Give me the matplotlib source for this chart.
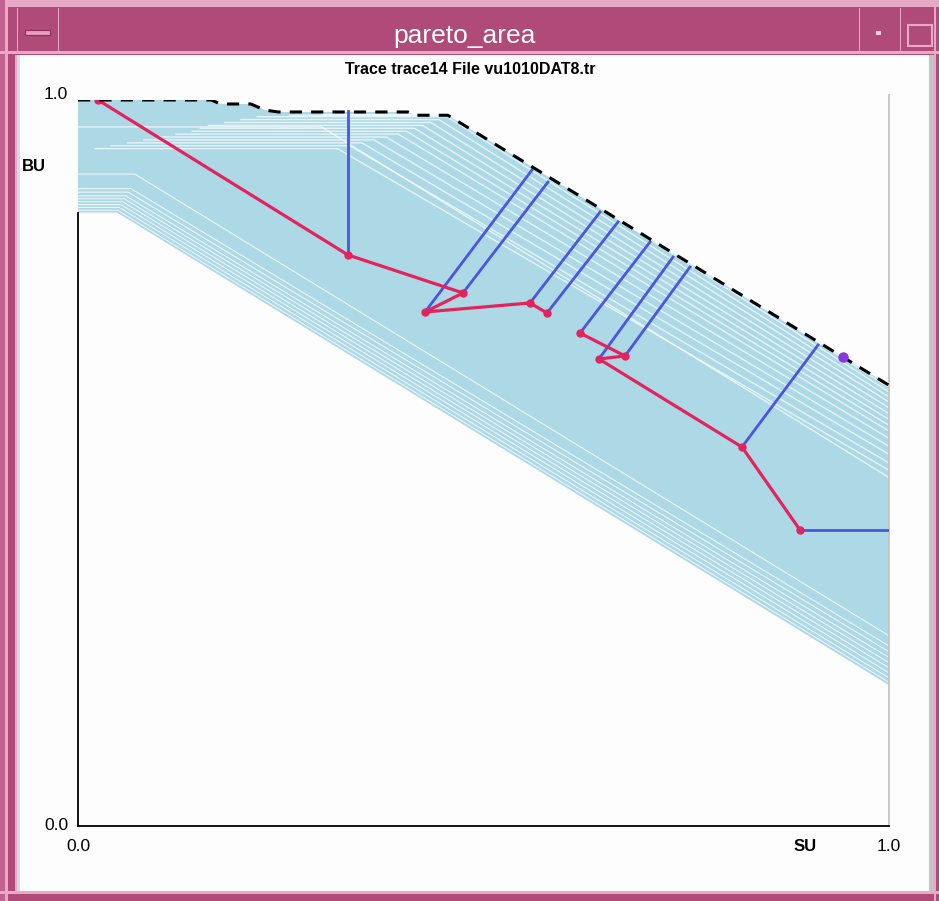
import matplotlib
matplotlib.use("Agg")
import matplotlib.pyplot as plt
from matplotlib.patches import Rectangle
from matplotlib import font_manager

W, H = 939, 901

# pareto frontier = upper envelope of all traces
front_x = [0.0, 0.164, 0.176, 0.213, 0.231, 0.247, 0.407, 0.416, 0.456, 1.0]
front_y = [1.0, 1.0, 0.9945, 0.9945, 0.986, 0.9835, 0.9835, 0.979, 0.979, 0.607]

# lower envelope of the traces
lower_x = [0.0, 0.048, 1.0]
lower_y = [0.845, 0.845, 0.194]

# thin gaps between neighbouring traces near the upper edge:
# start, flat level, knee, value at SU=1
top_x0 = [0.30, 0.26, 0.22, 0.20, 0.18, 0.16, 0.15, 0.14, 0.12, 0.10, 0.08,
          0.06, 0.04, 0.02, 0.0]
top_y0 = [0.980, 0.979, 0.977, 0.973, 0.969, 0.965, 0.961, 0.957, 0.953,
          0.949, 0.945, 0.941, 0.937, 0.933, 0.963]
top_knee = [0.47, 0.465, 0.455, 0.445, 0.435, 0.425, 0.415, 0.405, 0.395,
            0.38, 0.365, 0.35, 0.335, 0.32, 0.30]
top_y1 = [0.604, 0.598, 0.591, 0.584, 0.576, 0.568, 0.560, 0.552, 0.544,
          0.534, 0.523, 0.512, 0.500, 0.490, 0.480]

# thin gaps near the lower edge
bot_y0 = [0.848, 0.852, 0.856, 0.860, 0.864, 0.868, 0.873, 0.878, 0.898]
bot_knee = [0.049, 0.051, 0.053, 0.055, 0.057, 0.059, 0.062, 0.065, 0.07]
bot_y1 = [0.198, 0.204, 0.211, 0.218, 0.225, 0.232, 0.240, 0.248, 0.262]

# search path (two pieces)
path1_x = [0.0247, 0.333, 0.4747, 0.4279, 0.5573, 0.5783]
path1_y = [1.0, 0.7865, 0.7342, 0.708, 0.7204, 0.7066]
path2_x = [0.619, 0.6745, 0.6424, 0.8187, 0.8903]
path2_y = [0.679, 0.6474, 0.6433, 0.522, 0.4077]

# projections from path points towards the frontier
proj_x0 = [0.333, 0.4279, 0.4747, 0.5573, 0.5783, 0.619, 0.6424, 0.6745, 0.8187, 0.8903]
proj_y0 = [0.7865, 0.708, 0.7342, 0.7204, 0.7066, 0.679, 0.6433, 0.6474, 0.522, 0.4077]
proj_x1 = [0.333, 0.5598, 0.5795, 0.6437, 0.6658, 0.7053, 0.7337, 0.7546, 0.9125, 1.0]
proj_y1 = [0.985, 0.9036, 0.887, 0.8457, 0.832, 0.8044, 0.7837, 0.77, 0.6625, 0.4077]

best_x, best_y = 0.9433, 0.646

avail = {f.name for f in font_manager.fontManager.ttflist}
SANS = "Liberation Sans" if "Liberation Sans" in avail else "DejaVu Sans"
plt.rcParams["font.family"] = [SANS, "DejaVu Sans"]

FRAME = "#b04a78"
LIGHT = "#e7a9c5"

fig = plt.figure(figsize=(W / 100, H / 100), dpi=100, facecolor=FRAME)


def box(x0, y0, x1, y1, color, z=0):
    fig.add_artist(Rectangle((x0 / W, 1 - y1 / H), (x1 - x0) / W, (y1 - y0) / H,
                             transform=fig.transFigure, facecolor=color,
                             edgecolor="none", zorder=z))


def outline(x0, y0, x1, y1, color, lw=1.2, z=1):
    fig.add_artist(Rectangle((x0 / W, 1 - y1 / H), (x1 - x0) / W, (y1 - y0) / H,
                             transform=fig.transFigure, facecolor="none",
                             edgecolor=color, lw=lw, zorder=z))


# window frame
box(0, 0, W, 7, LIGHT)
box(0, 0, 5, H, "#c0618f")
box(5, 7, 8, H, LIGHT)
box(15, 55, 17, 892, LIGHT)
box(17, 55, 931, 891, "#fdfdfd")
box(17, 55, 20, 891, "#cfe0e2")
box(929, 55, 934, 891, "#c4c4c4")
box(934, 7, 936, 901, LIGHT)
box(0, 891, W, 894, LIGHT)
box(0, 51, W, 54, LIGHT)
box(17, 8, 18, 52, LIGHT)
box(58, 8, 59, 52, LIGHT)
box(859, 8, 860, 52, LIGHT)
box(900, 8, 901, 52, LIGHT)
box(25, 30, 50, 35, "#e39dbd")
outline(25, 30, 50, 35, "#8e2f5a", lw=0.8)
box(876, 31, 881, 35, "#f0d0de")
outline(908, 25, 932, 46, LIGHT, lw=1.5)

fig.text(465 / W, 1 - 36 / H, "pareto_area", color="white", fontsize=19,
         ha="center", va="center")
fig.text(470 / W, 1 - 69 / H, "Trace trace14 File vu1010DAT8.tr", color="black",
         fontsize=11.5, fontweight="bold", ha="center", va="center")

ax = fig.add_axes([78 / W, 75 / H, 811 / W, 726 / H])
ax.set_xlim(0, 1)
ax.set_ylim(0, 1)
ax.patch.set_visible(False)
ax.set_xticks([])
ax.set_yticks([])
ax.spines["top"].set_visible(False)
ax.spines["left"].set_linewidth(1.3)
ax.spines["left"].set_bounds(0, lower_y[0])
ax.spines["bottom"].set_linewidth(1.3)
ax.spines["right"].set_color("#c4c4c4")
ax.spines["right"].set_linewidth(1.3)
ax.spines["right"].set_bounds(0, 1.007)

fan = "#add8e6"
ax.fill(front_x + lower_x[::-1], front_y + lower_y[::-1], color=fan, lw=0,
        zorder=1)
for x0, y0, k, y1 in zip(top_x0, top_y0, top_knee, top_y1):
    ax.plot([x0, k, 1], [y0, y0, y1], color="white", lw=1.0, alpha=0.7,
            zorder=1.5, solid_capstyle="butt")
for y0, k, y1 in zip(bot_y0, bot_knee, bot_y1):
    ax.plot([0, k, 1], [y0, y0, y1], color="white", lw=0.8, alpha=0.75,
            zorder=1.5, solid_capstyle="butt")

for x0, y0, x1, y1 in zip(proj_x0, proj_y0, proj_x1, proj_y1):
    ax.plot([x0, x1], [y0, y1], color="#4a55e2", lw=2.0, zorder=3)

red = "#e2235c"
for px, py in [(path1_x, path1_y), (path2_x, path2_y)]:
    ax.plot(px, py, color=red, lw=2.3, marker="o", markersize=5,
            zorder=3.5)

ax.plot(front_x, front_y, color="black", lw=2.2, dashes=(4, 3), zorder=4)
ax.plot([best_x], [best_y], "o", color="#8a35e0", markersize=6.5, zorder=5)

# axis labels in the style of the original tool
ax.text(-0.012, 1.008, "1.0", fontsize=12.5, ha="right", va="center",
        transform=ax.transAxes)
ax.text(-0.012, 0.0, "0.0", fontsize=12.5, ha="right", va="center",
        transform=ax.transAxes)
ax.text(-0.069, 0.908, "BU", fontsize=12, fontweight="bold", ha="left",
        va="center", transform=ax.transAxes)
ax.text(0.0, -0.028, "0.0", fontsize=12.5, ha="center", va="center",
        transform=ax.transAxes)
ax.text(1.0, -0.028, "1.0", fontsize=12.5, ha="center", va="center",
        transform=ax.transAxes)
ax.text(0.896, -0.028, "SU", fontsize=12, fontweight="bold", ha="center",
        va="center", transform=ax.transAxes)

fig.savefig("out.png", dpi=100, facecolor=FRAME)
